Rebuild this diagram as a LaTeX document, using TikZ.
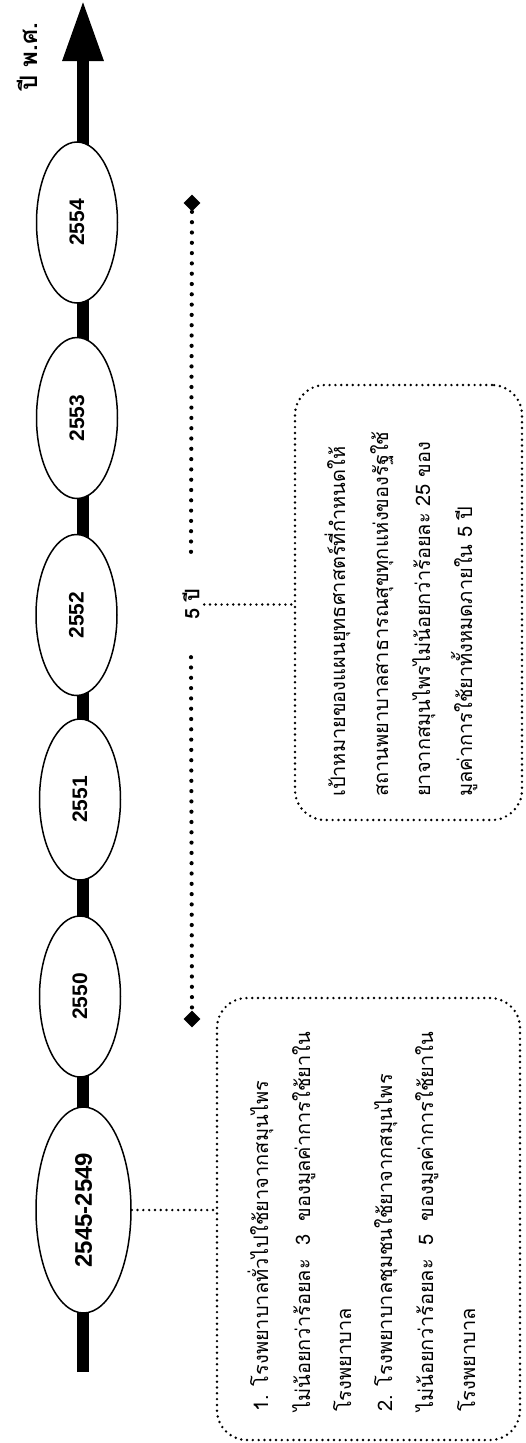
\documentclass[tikz,border=0pt]{standalone}
\usepackage{fontspec}
\setmainfont{Liberation Sans}
\newfontfamily\thaifont[Script=Thai]{Loma}
\usetikzlibrary{shapes.geometric,arrows.meta}
\begin{document}
\begin{tikzpicture}[x=1pt,y=-1pt,
  yearnode/.style={ellipse, draw, line width=1.5pt, fill=white, rotate=90, inner sep=0pt,
    minimum width=161pt, minimum height=81pt, font=\fontsize{21}{21}\selectfont\bfseries},
  bigdots/.style={line width=4.2pt, line cap=round, dash pattern=on 0pt off 10.3pt},
  smalldots/.style={line width=2.7pt, line cap=round, dash pattern=on 0pt off 5.8pt},
  textbox/.style={draw, smalldots, rounded corners=30pt, inner sep=0pt},
  thline/.style={rotate=90, anchor=base west, inner sep=0pt, font=\thaifont\fontsize{20}{20}\selectfont},
  endmark/.style={diamond, fill=black, inner sep=0pt, minimum size=17pt},
]
\useasboundingbox (0,0) rectangle (525,1443);

% axis
\coordinate (abot) at (83,1372);
\coordinate (atip) at (83,0);
\draw[line width=12pt, -{Triangle[length=61pt,width=38pt]}] (abot) -- (atip);

\node[rotate=90, anchor=base, inner sep=0pt, font=\thaifont\bfseries\fontsize{24}{24}\selectfont] (title) at (37,56.5) {ปี พ.ศ.};

% years
\node[yearnode] (y2554) at (77,222.5) {2554};
\node[yearnode] (y2553) at (77,418) {2553};
\node[yearnode] (y2552) at (76.5,615) {2552};
\node[yearnode] (y2551) at (80,799.5) {2551};
\node[yearnode] (y2550) at (80,996.5) {2550};
\node[yearnode, minimum width=206pt, minimum height=95pt, font=\fontsize{24}{24}\selectfont\bfseries] (y2545) at (83.5,1210) {2545-2549};

% five-year span
\node[endmark] (dtop) at (192,203) {};
\node[endmark] (dbot) at (192,1019) {};
\node[rotate=90, inner sep=0pt, minimum width=105pt, minimum height=26pt, font=\thaifont\bfseries\fontsize{20}{20}\selectfont] (span) at (191,604.5) {5 ปี};
\draw[bigdots] (span.east) -- (dtop);
\draw[bigdots] (span.west) -- (dbot);

% boxes
\node[textbox, minimum width=303pt, minimum height=442pt] (box1) at (368.5,1219) {};
\node[textbox, minimum width=227pt, minimum height=435pt] (box2) at (408.5,602.5) {};

\draw[smalldots] (y2545.south) -- (y2545.south -| box1.west);
\draw[smalldots] (span.south) -- (span.south -| box2.west);

% box 1 text
\node[thline] (b1a) at (268,1412) {1. โรงพยาบาลทั่วไปใช้ยาจากสมุนไพร};
\node[thline] (b1b) at (310,1412) {ไม่น้อยกว่าร้อยละ\ \ 3\ \ ของมูลค่าการใช้ยาใน};
\node[thline] (b1c) at (351,1412) {โรงพยาบาล};
\node[thline] (b1d) at (392,1412) {2. โรงพยาบาลชุมชนใช้ยาจากสมุนไพร};
\node[thline] (b1e) at (433,1412) {ไม่น้อยกว่าร้อยละ\ \ 5\ \ ของมูลค่าการใช้ยาใน};
\node[thline] (b1f) at (475,1412) {โรงพยาบาล};

% box 2 text
\node[thline] (b2a) at (345,797) {เป้าหมายของแผนยุทธศาสตร์ที่กำหนดให้};
\node[thline] (b2b) at (388,797) {สถานพยาบาลสาธารณสุขทุกแห่งของรัฐใช้};
\node[thline] (b2c) at (430,797) {ยาจากสมุนไพรไม่น้อยกว่าร้อยละ 25 ของ};
\node[thline] (b2d) at (472,797) {มูลค่าการใช้ยาทั้งหมดภายใน 5 ปี};
\end{tikzpicture}
\end{document}
